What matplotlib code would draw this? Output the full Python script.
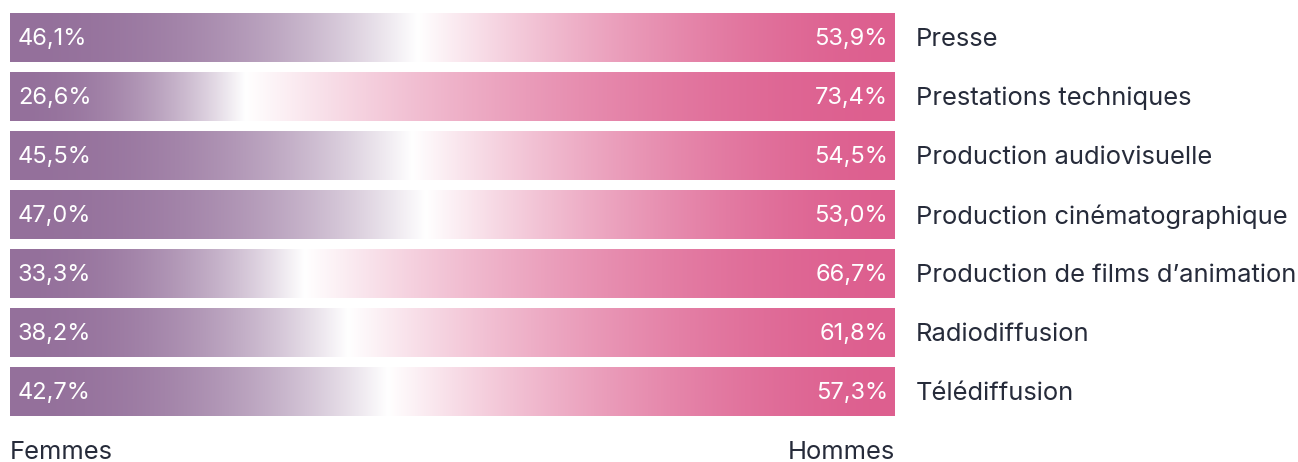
import numpy as np
import matplotlib
matplotlib.use('Agg')
import matplotlib.pyplot as plt

categories = ['Presse', 'Prestations techniques', 'Production audiovisuelle',
              'Production cinématographique', "Production de films d\u2019animation",
              'Radiodiffusion', 'Télédiffusion']
femmes = [46.1, 26.6, 45.5, 47.0, 33.3, 38.2, 42.7]
hommes = [53.9, 73.4, 54.5, 53.0, 66.7, 61.8, 57.3]

purple = np.array([148, 112, 155]) / 255
pink = np.array([221, 95, 143]) / 255
white = np.ones(3)
text_color = '#262b3a'

plt.rcParams['font.family'] = ['Inter', 'DejaVu Sans']

W, H = 1298, 462
fig = plt.figure(figsize=(W / 100, H / 100), dpi=100)
ax = fig.add_axes([10 / W, (H - 421) / H, 885 / W, 413 / H])
ax.set_xlim(0, 100)
ax.set_ylim(6.5, -0.5)
ax.axis('off')


def bar_gradient(split, n=1000):
    x = np.linspace(0, 100, n)
    img = np.zeros((1, n, 3))
    for k, xv in enumerate(x):
        if xv <= split:
            d = (split - xv) / split
            w = (1 - d) ** 2.2
            img[0, k] = purple * (1 - w) + white * w
        else:
            t = (xv - split) / (100 - split)
            w = (1 - t) ** 1.7
            img[0, k] = pink * (1 - w) + white * w
    return img


half = 0.415
for i, (cat, f, h) in enumerate(zip(categories, femmes, hommes)):
    ax.imshow(bar_gradient(f), extent=[0, 100, i + half, i - half],
              aspect='auto', interpolation='bilinear')
    ax.text(0.9, i + 0.03, f'{f:.1f}%'.replace('.', ','), color='white',
            fontsize=17, va='center', ha='left')
    ax.text(99.2, i + 0.03, f'{h:.1f}%'.replace('.', ','), color='white',
            fontsize=17, va='center', ha='right')
    ax.text(102.4, i + 0.03, cat, color=text_color, fontsize=18.4,
            va='center', ha='left', clip_on=False)

ax.text(0, 7.03, 'Femmes', color=text_color, fontsize=18.4,
        va='center', ha='left', clip_on=False)
ax.text(100, 7.03, 'Hommes', color=text_color, fontsize=18.4,
        va='center', ha='right', clip_on=False)

fig.savefig('out.png', dpi=100)
